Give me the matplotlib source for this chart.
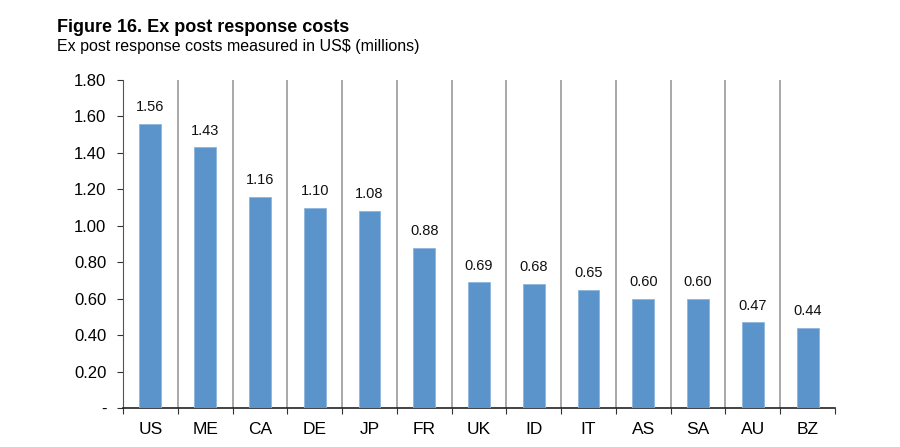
import matplotlib.pyplot as plt
import numpy as np

plt.rcParams['font.family'] = ['Liberation Sans', 'DejaVu Sans']

countries = ['US', 'ME', 'CA', 'DE', 'JP', 'FR', 'UK', 'ID', 'IT', 'AS', 'SA', 'AU', 'BZ']
costs = [1.56, 1.43, 1.16, 1.10, 1.08, 0.88, 0.69, 0.68, 0.65, 0.60, 0.60, 0.47, 0.44]
yticks = [0, 0.2, 0.4, 0.6, 0.8, 1.0, 1.2, 1.4, 1.6, 1.8]

fig = plt.figure(figsize=(9, 4.47), dpi=100)
ax = fig.add_axes([123 / 900, 1 - 408 / 447, (835 - 123) / 900, (408 - 80) / 447])

x = np.arange(len(countries))
bars = ax.bar(x, costs, width=0.4, color='#5B94CB', edgecolor='#8DB5DE', linewidth=0.6, zorder=3)

for xi, v in zip(x, costs):
    ax.annotate('%.2f' % v, (xi, v), xytext=(0, 7), textcoords='offset points',
                ha='center', va='bottom', fontsize=10.5, color='#111111')

# vertical separators between categories
for b in np.arange(0.5, len(countries) - 1, 1):
    ax.axvline(b, color='#999999', linewidth=1.2, zorder=1)

ax.set_xlim(-0.5, len(countries) - 0.5)
ax.set_ylim(0, 1.8)
ax.set_yticks(yticks)
ax.set_yticklabels(['-'] + ['%.2f' % t for t in yticks[1:]], fontsize=12)

ax.set_xticks(np.arange(-0.5, len(countries), 1))
ax.set_xticklabels([])
ax.set_xticks(x, minor=True)
ax.set_xticklabels(countries, minor=True, fontsize=12.5)
ax.tick_params(axis='x', which='major', length=4, direction='out', color='#333333')
ax.tick_params(axis='x', which='minor', length=0, pad=10)
ax.tick_params(axis='y', length=4, direction='out', color='#333333', pad=8)

for s in ['top', 'right']:
    ax.spines[s].set_visible(False)
ax.spines['left'].set_color('#555555')
ax.spines['bottom'].set_color('#222222')
ax.spines['bottom'].set_linewidth(1.2)

fig.text(57 / 900, 1 - 32 / 447, 'Figure 16. Ex post response costs', fontsize=13,
         fontweight='bold', va='baseline')
fig.text(57 / 900, 1 - 51 / 447, 'Ex post response costs measured in US$ (millions)',
         fontsize=11.5, va='baseline')

fig.savefig('out.png', dpi=100)
